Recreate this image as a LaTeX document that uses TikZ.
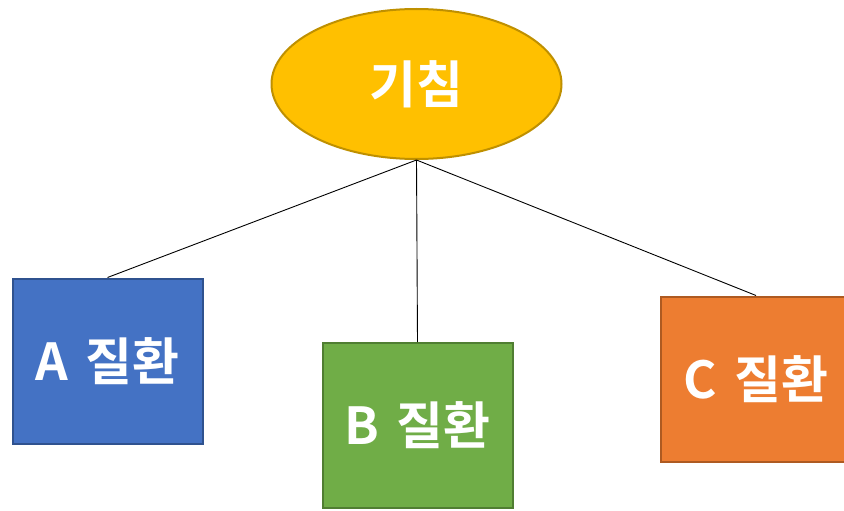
\documentclass[tikz,border=0pt]{standalone}
\usepackage{fontspec}
\usepackage{xcolor}
\setmainfont{Noto Sans CJK KR}[BoldFont={Noto Sans CJK KR Bold}]
\usetikzlibrary{shapes.geometric,positioning}

\definecolor{coughfill}{HTML}{FFC000}
\definecolor{coughline}{HTML}{BF9000}
\definecolor{afill}{HTML}{4472C4}
\definecolor{aline}{HTML}{2F528F}
\definecolor{bfill}{HTML}{70AD47}
\definecolor{bline}{HTML}{507E32}
\definecolor{cfill}{HTML}{ED7D31}
\definecolor{cline}{HTML}{AE5A21}

\begin{document}
\begin{tikzpicture}[x=1pt, y=-1pt,
    label text/.style={text=white, font=\fontsize{51}{58}\selectfont\bfseries},
    symptom/.style={ellipse, draw=#1line, fill=#1fill, line width=2pt, minimum width=290pt, minimum height=150pt, inner sep=0pt, label text},
    disease/.style={rectangle, draw=#1line, fill=#1fill, line width=2pt, minimum width=190pt, minimum height=165pt, inner sep=0pt, label text},
    link/.style={draw=black, line width=0.9pt}]
        \clip (0,0) rectangle (844,511);
        \fill[white] (0,0) rectangle (844,511);

        % Symptom
        \node[symptom=cough] (cough) at (416.5,84) {기침};

        % Diseases
        \node[disease=a] (diseaseA) at (107.5,361) {A\hspace{0.35em}질환};
        \node[disease=b] (diseaseB) at (417.5,425.5) {B\hspace{0.35em}질환};
        \node[disease=c] (diseaseC) at (756,379) {C\hspace{0.35em}질환};

        % Links
        \foreach \d in {diseaseA, diseaseB, diseaseC} {
            \draw[link] (cough.south) -- (\d.north);
        }
    \end{tikzpicture}
\end{document}
